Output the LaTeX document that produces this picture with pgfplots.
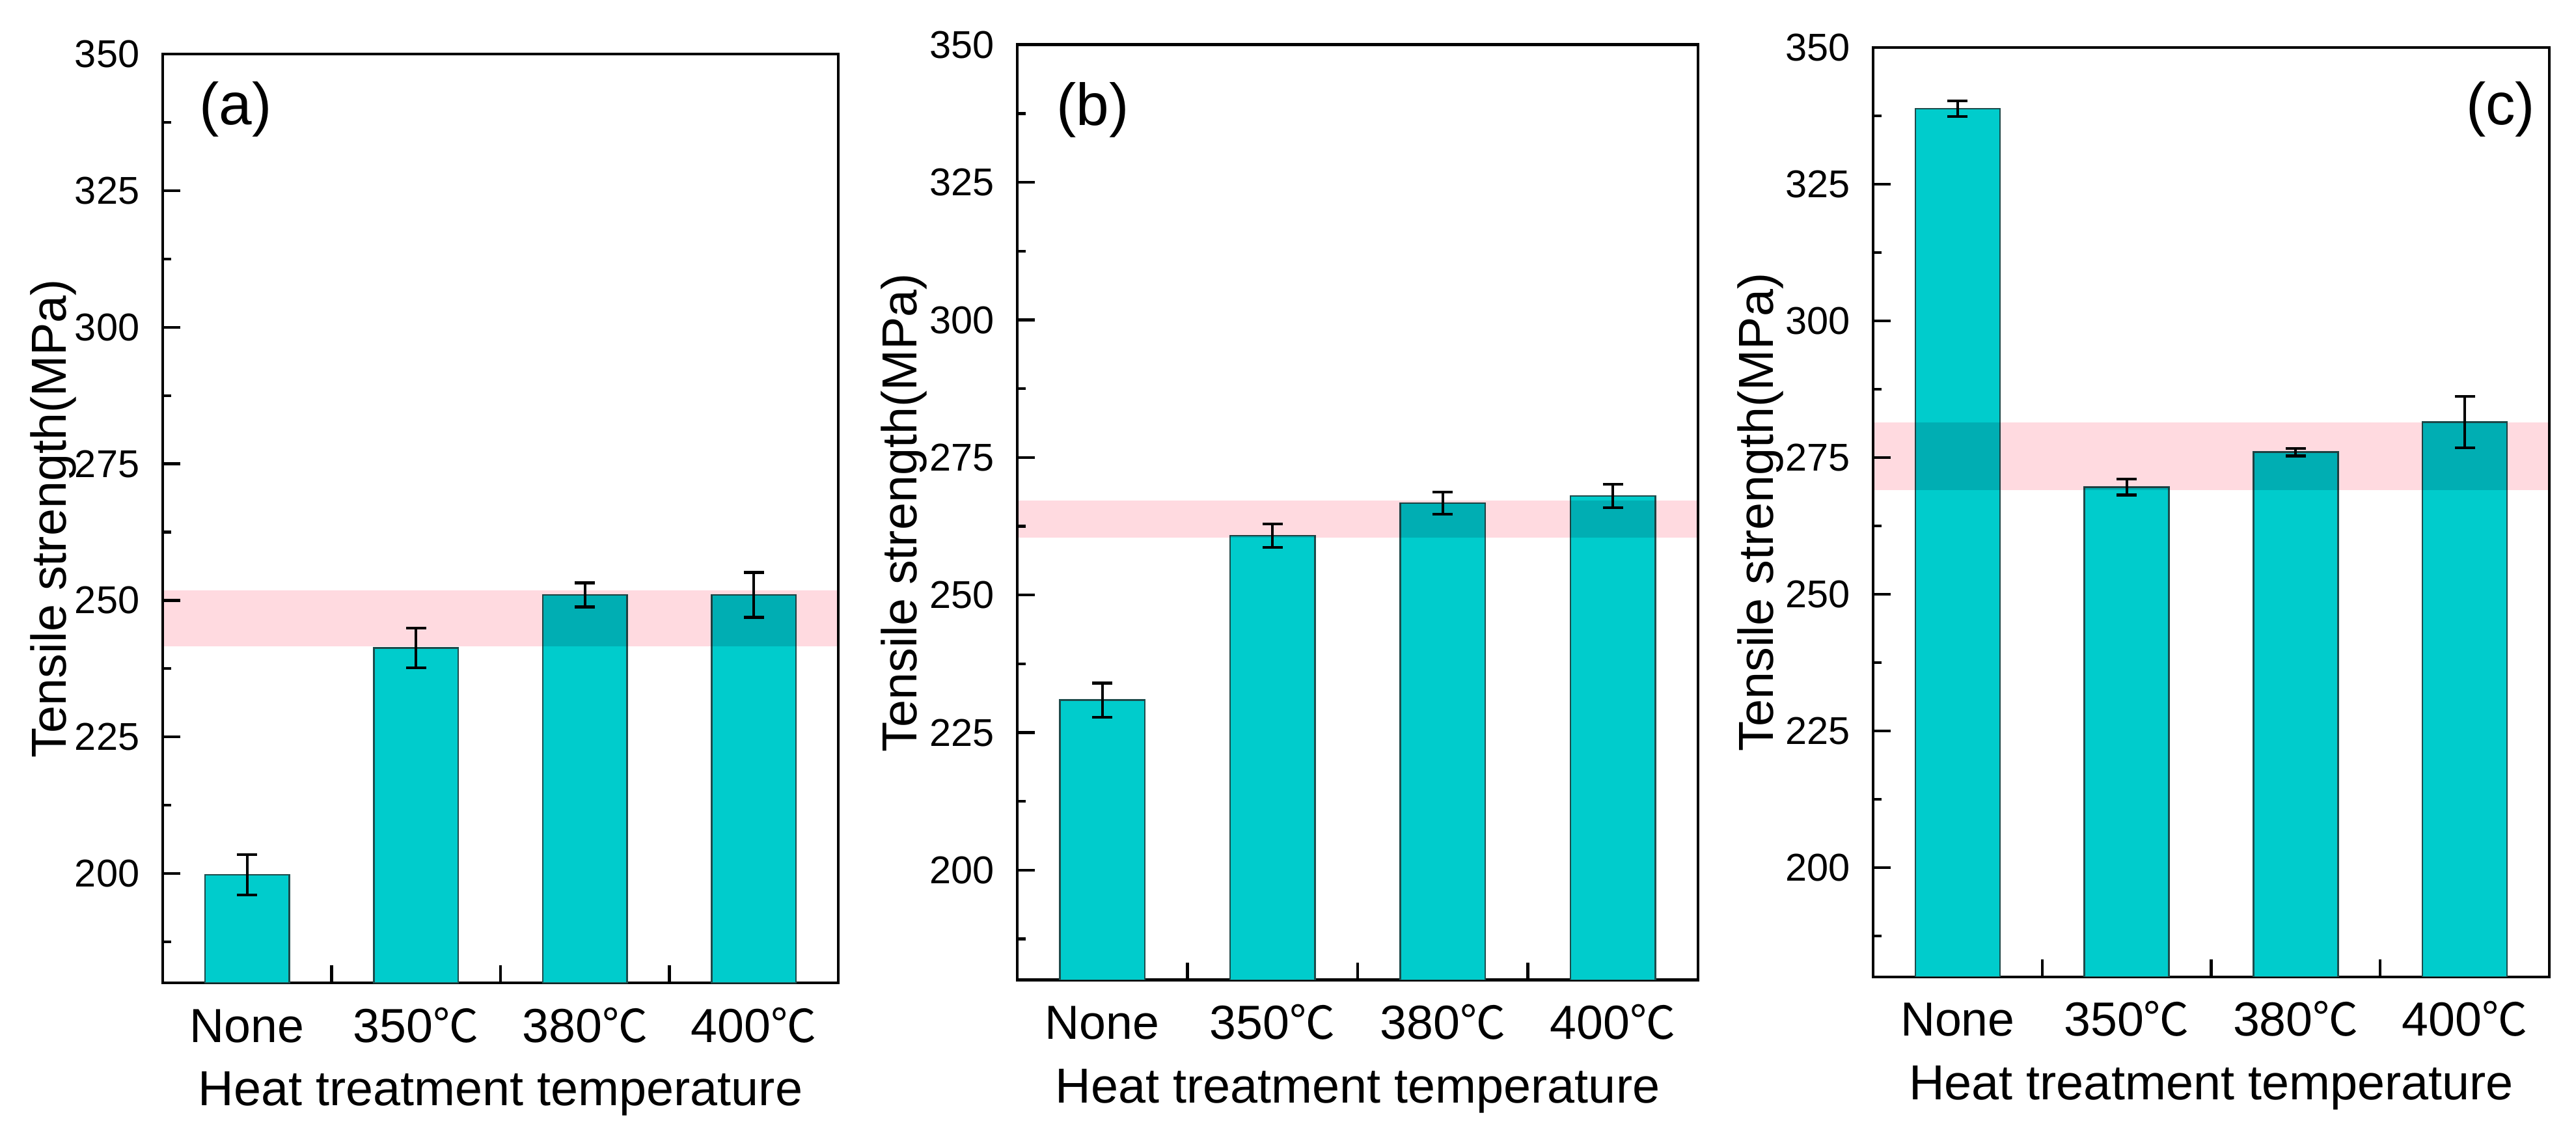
\documentclass[border=0pt]{standalone}
\usepackage{pgfplots}
\pgfplotsset{compat=1.18}
\usepackage{pgfplotstable}
\usepackage{fontspec}
\setmainfont{Liberation Sans}
\newfontfamily\cjk{Noto Sans CJK SC}
\definecolor{barcyan}{RGB}{0,204,204}
\definecolor{baredge}{RGB}{30,75,75}
\definecolor{bandpink}{RGB}{255,218,224}
\newcommand{\degC}{{\cjk\fontsize{10}{11}\selectfont ℃}}

\pgfplotstableread{
x y e
1 199.8 3.7
2 241.3 3.6
3 251.0 2.2
4 251.0 4.1
}\dataA
\pgfplotstableread{
x y e
1 230.9 3.1
2 260.8 2.1
3 266.7 2.0
4 268.0 2.1
}\dataB
\pgfplotstableread{
x y e
1 338.8 1.45
2 269.6 1.45
3 276.0 0.7
4 281.5 4.7
}\dataC

\pgfplotsset{
  panel/.style={
    scale only axis,
    xmin=0.5, xmax=4.5,
    ymin=180, ymax=350,
    xtick={1.5,2.5,3.5},
    xticklabels={,,},
    extra x ticks={1,2,3,4},
    extra x tick labels={None,350\degC,380\degC,400\degC},
    extra x tick style={tick style={draw=none}},
    ytick={200,225,...,350},
    minor ytick={187.5,212.5,...,337.5},
    tick align=inside,
    xtick pos=bottom, ytick pos=left,
    major tick length=3.85pt, minor tick length=1.9pt,
    tick style={line width=0.6pt, black},
    axis line style={line width=0.7pt, black},
    /pgf/number format/assume math mode=true,
    yticklabel style={font=\fontsize{8.5}{10}\selectfont, anchor=east, inner sep=0pt, xshift=-4.9pt},
    xticklabel style={font=\fontsize{10.5}{12}\selectfont, anchor=base, inner sep=0pt, yshift=-13pt},
    xlabel={Heat treatment temperature},
    ylabel={Tensile strength(MPa)},
    xlabel style={font=\fontsize{10.8}{12}\selectfont, at={(axis description cs:0.5,0)}, anchor=base, yshift=-27pt},
    label style={font=\fontsize{10.8}{12}\selectfont},
  },
  bars/.style={
    ybar, bar width=0.5, bar shift=0pt,
    fill=barcyan, draw=baredge, line width=0.35pt,
    error bars/.cd, y dir=both, y explicit,
    error bar style={line width=0.6pt, black},
    error mark options={rotate=90, mark size=2.2pt, line width=0.6pt, black},
  },
  band/.style={draw=none, fill=bandpink, blend mode=multiply, forget plot},
}

\begin{document}
\begin{tikzpicture}
\useasboundingbox (0,0) rectangle (565.43pt,250.43pt);

% (a)
\begin{axis}[panel, at={(35.71pt,34.71pt)}, anchor=south west,
  width=148.29pt, height=203.86pt,
  ylabel style={at={(axis description cs:-0.1435,0.5)}, anchor=base}]
\addplot[bars] table[x=x, y=y, y error=e] {\dataA};
\addplot[band] coordinates {(0.5,241.6) (4.5,241.6) (4.5,251.8) (0.5,251.8)} -- cycle;
\node[font=\fontsize{13}{15}\selectfont] at (rel axis cs:0,1) [xshift=16pt, yshift=-12.1pt] {(a)};
\end{axis}

% (b)
\begin{axis}[panel, at={(223.29pt,35.29pt)}, anchor=south west,
  width=149.43pt, height=205.29pt,
  ylabel style={at={(axis description cs:-0.148,0.5)}, anchor=base}]
\addplot[bars] table[x=x, y=y, y error=e] {\dataB};
\addplot[band] coordinates {(0.5,260.4) (4.5,260.4) (4.5,267.2) (0.5,267.2)} -- cycle;
\node[font=\fontsize{13}{15}\selectfont] at (rel axis cs:0,1) [xshift=16.6pt, yshift=-14.3pt] {(b)};
\end{axis}

% (c)
\begin{axis}[panel, at={(411.14pt,36pt)}, anchor=south west,
  width=148.43pt, height=204pt,
  ylabel style={at={(axis description cs:-0.148,0.5)}, anchor=base}]
\addplot[bars] table[x=x, y=y, y error=e] {\dataC};
\addplot[band] coordinates {(0.5,269.1) (4.5,269.1) (4.5,281.4) (0.5,281.4)} -- cycle;
\node[font=\fontsize{13}{15}\selectfont] at (rel axis cs:1,1) [xshift=-10.7pt, yshift=-13.6pt] {(c)};
\end{axis}
\end{tikzpicture}
\end{document}
